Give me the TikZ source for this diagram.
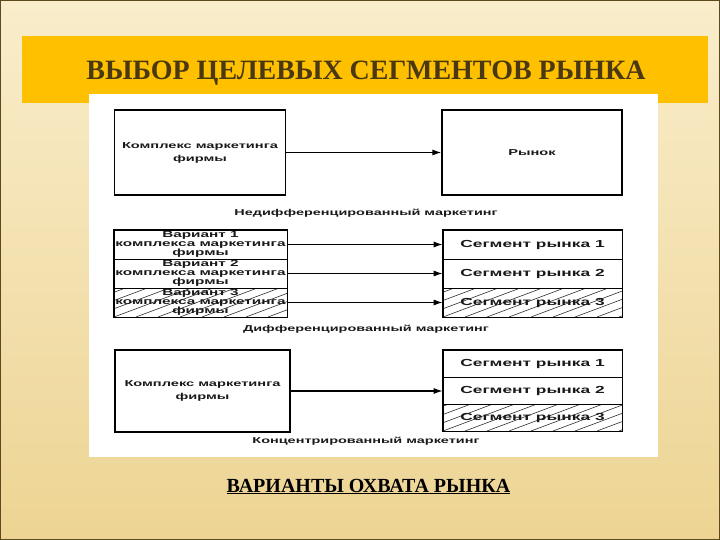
\documentclass[tikz,border=0pt]{standalone}
\usepackage{fontspec}
\setmainfont{Liberation Serif}
\newfontfamily\diagfont[UprightFont=* Bold,FakeStretch=1.7]{Liberation Sans}
\usetikzlibrary{arrows.meta}

\definecolor{slidetop}{HTML}{F9EDCB}
\definecolor{slidebottom}{HTML}{EDD493}
\definecolor{slideedge}{HTML}{5C4A1E}
\definecolor{bandorange}{HTML}{FFC000}
\definecolor{titlebrown}{HTML}{4A3910}

\begin{document}
\begin{tikzpicture}[x=1pt,y=-1pt,
	box/.style={draw=black,line width=1.2pt,inner sep=0pt,align=center,text=black!90,
		font=\diagfont\fontsize{8.6}{13}\selectfont},
	row/.style={box,line width=0.7pt,font=\diagfont\fontsize{9}{8.8}\selectfont},
	segrow/.style={row,font=\diagfont\fontsize{10.2}{11}\selectfont},
	hatched/.style={path picture={
		\foreach \k in {-4,...,9}
			\draw[black!80,line width=0.6pt] ([xshift=\k*22pt]path picture bounding box.south west) -- ++(80pt,30pt);}},
	link/.style={-{Latex[length=9pt,width=6pt]},line width=1.2pt},
	caption/.style={inner sep=0pt,text=black!90,font=\diagfont\fontsize{8.5}{10}\selectfont}]
	\useasboundingbox (0,0) rectangle (720,540);
	\shade [top color=slidetop,bottom color=slidebottom] (0,0) rectangle (720,540);
	\draw [slideedge,line width=1pt] (0.5,0.5) rectangle (719.5,539.5);
	\fill [bandorange] (22,36) rectangle (708,103);
	\node [anchor=base,text=titlebrown,font=\bfseries\fontsize{28}{30}\selectfont] (title) at (366,80) {ВЫБОР ЦЕЛЕВЫХ СЕГМЕНТОВ РЫНКА};
	\fill [white] (89,94) rectangle (658,457);
	% undifferentiated
	\node [box,minimum width=171pt,minimum height=85pt] (kmf1) at (200,152.5) {Комплекс маркетинга\\фирмы};
	\node [box,minimum width=180pt,minimum height=85pt] (rynok) at (532,152.5) {Рынок};
	\draw [link] (kmf1.east) -- (rynok.west);
	\node [caption] (undiff) at (366,213) {Недифференцированный маркетинг};
	% differentiated
	\node [row,minimum width=173pt,minimum height=29pt] (var1) at (200.5,244.5) {Вариант 1\\комплекса маркетинга\\фирмы};
	\node [row,minimum width=173pt,minimum height=29pt] (var2) at (200.5,273.5) {Вариант 2\\комплекса маркетинга\\фирмы};
	\node [row,hatched,minimum width=173pt,minimum height=29pt] (var3) at (200.5,302.5) {Вариант 3\\комплекса маркетинга\\фирмы};
	\draw [line width=1.2pt] (var1.north west) rectangle (var3.south east);
	\node [segrow,minimum width=179pt,minimum height=29pt] (seg1) at (532.5,244.5) {Сегмент рынка 1};
	\node [segrow,minimum width=179pt,minimum height=29pt] (seg2) at (532.5,273.5) {Сегмент рынка 2};
	\node [segrow,hatched,minimum width=179pt,minimum height=29pt] (seg3) at (532.5,302.5) {Сегмент рынка 3};
	\draw [line width=1.2pt] (seg1.north west) rectangle (seg3.south east);
	\draw [link] (var1.east) -- (seg1.west);
	\draw [link] (var2.east) -- (seg2.west);
	\draw [link] (var3.east) -- (seg3.west);
	\node [caption] (diff) at (366,329) {Дифференцированный маркетинг};
	% concentrated
	\node [box,minimum width=175pt,minimum height=82pt] (kmf3) at (202.5,391) {Комплекс маркетинга\\фирмы};
	\node [segrow,minimum width=179pt,minimum height=27pt] (part1) at (532.5,363.5) {Сегмент рынка 1};
	\node [segrow,minimum width=179pt,minimum height=27pt] (part2) at (532.5,390.5) {Сегмент рынка 2};
	\node [segrow,hatched,minimum width=179pt,minimum height=27pt] (part3) at (532.5,417.5) {Сегмент рынка 3};
	\draw [line width=1.2pt] (part1.north west) rectangle (part3.south east);
	\draw [link] (kmf3.east) -- (kmf3.east -| part2.west);
	\node [caption] (conc) at (366,441) {Концентрированный маркетинг};
	\node [anchor=base,text=black,font=\bfseries\fontsize{20}{22}\selectfont] (subtitle) at (368.5,492) {\underline{ВАРИАНТЫ ОХВАТА РЫНКА}};
\end{tikzpicture}
\end{document}
